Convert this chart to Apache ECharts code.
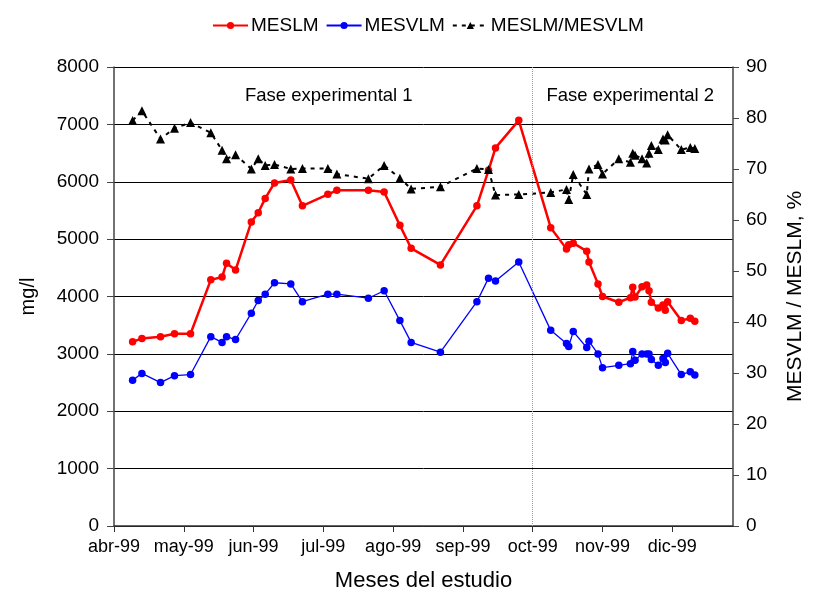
<!DOCTYPE html>
<html>
<head>
<meta charset="utf-8">
<script src="https://cdn.jsdelivr.net/npm/echarts@6/dist/echarts.min.js"></script>
<style>html,body{margin:0;padding:0;background:#fff}#c{width:814px;height:597px}</style>
</head>
<body>
<div id="c"></div>
<script>
const monthLabels = ['abr-99','may-99','jun-99','jul-99','ago-99','sep-99','oct-99','nov-99','dic-99'];
const dates = [
  '1999-04-09','1999-04-13','1999-04-21','1999-04-27',
  '1999-05-04','1999-05-13','1999-05-18','1999-05-20','1999-05-24','1999-05-31',
  '1999-06-03','1999-06-06','1999-06-10','1999-06-17','1999-06-22',
  '1999-07-03','1999-07-07','1999-07-21','1999-07-28',
  '1999-08-04','1999-08-09','1999-08-22',
  '1999-09-07','1999-09-12','1999-09-15','1999-09-25',
  '1999-10-09','1999-10-16','1999-10-17','1999-10-19','1999-10-25','1999-10-26','1999-10-30',
  '1999-11-01','1999-11-08','1999-11-13','1999-11-14','1999-11-15','1999-11-18','1999-11-20',
  '1999-11-21','1999-11-22','1999-11-25','1999-11-27','1999-11-28','1999-11-29',
  '1999-12-05','1999-12-09','1999-12-11'
];
const meslm = [
  3210,3270,3300,3350,
  3350,4290,4340,4580,4460,5300,
  5460,5710,5980,6030,5580,
  5780,5850,5850,5820,
  5240,4840,4550,
  5580,6200,6590,7070,
  5200,4830,4900,4930,4790,4600,4220,
  4000,3900,3980,4160,3990,4170,4200,4100,3900,3800,3850,3760,3910,
  3580,3620,3570
];
const mesvlm = [
  2540,2660,2500,2620,
  2640,3300,3200,3300,3250,3710,
  3930,4040,4240,4220,3910,
  4040,4040,3970,4100,
  3580,3200,3030,
  3910,4320,4270,4600,
  3410,3180,3130,3390,3110,3220,3000,
  2760,2800,2830,3040,2890,3000,3000,3000,2900,2800,2920,2850,3010,
  2640,2690,2630
];
const ratio = [
  79.5,81.4,75.9,78.0,
  79.1,77.1,73.7,72.0,72.8,70.0,
  72.0,70.7,70.9,70.0,70.1,
  70.1,69.0,68.1,70.7,
  68.2,66.1,66.5,
  70.1,69.9,64.9,65.0,
  65.4,66.0,64.0,68.9,65.0,70.0,70.9,
  69.0,72.0,71.3,73.1,72.7,72.0,71.2,73.1,74.6,73.8,75.9,75.7,76.7,
  73.8,74.2,74.0
];
const leftTicks = {min:0, max:8000, interval:1000};
const rightTicks = {min:0, max:90, interval:10};
const phaseLabels = ['Fase experimental 1','Fase experimental 2'];
const phaseBoundaryMonth = 6; // oct-99

function monthPos(s){
  const p = s.split('-').map(Number);
  const dim = new Date(p[0], p[1], 0).getDate();
  return (p[1]-4) + (p[2]-1)/dim;
}
const xs = dates.map(monthPos);
const pair = arr => arr.map((v,i)=>[xs[i], v]);

const FONT = 'Liberation Sans, Arial, sans-serif';
const chart = echarts.init(document.getElementById('c'), null, {renderer:'canvas'});
chart.setOption({
  animation:false,
  backgroundColor:'#fff',
  textStyle:{fontFamily:FONT, color:'#000'},
  legend:{
    top:11, left:207, itemGap:7, itemWidth:35, itemHeight:9,
    textStyle:{fontFamily:FONT, fontSize:19, color:'#000', padding:[0,0,0,-2]},
    data:['MESLM','MESVLM','MESLM/MESVLM']
  },
  grid:{left:114, right:77, top:67, bottom:70.5, containLabel:false},
  xAxis:{
    type:'value', min:0, max:8.87, interval:1,
    name:'Meses del estudio', nameLocation:'middle', nameGap:44,
    nameTextStyle:{fontFamily:FONT, fontSize:22, color:'#000'},
    axisLine:{show:true, onZero:false, lineStyle:{color:'#333', width:1.5}},
    axisTick:{show:true, length:6, lineStyle:{color:'#333'}},
    splitLine:{show:false},
    axisLabel:{margin:12, fontFamily:FONT, fontSize:18, color:'#000',
      showMaxLabel:false,
      formatter:v => (Math.abs(v-Math.round(v))<1e-6 && monthLabels[Math.round(v)]) ? monthLabels[Math.round(v)] : ''}
  },
  yAxis:[{
    type:'value', min:leftTicks.min, max:leftTicks.max, interval:leftTicks.interval,
    name:'mg/l', nameLocation:'middle', nameGap:76, nameRotate:90,
    nameTextStyle:{fontFamily:FONT, fontSize:20, color:'#000'},
    axisLine:{show:true, lineStyle:{color:'#444', width:1.5}},
    axisTick:{show:true, length:7, lineStyle:{color:'#444'}},
    splitLine:{show:true, lineStyle:{color:'#000', width:1}},
    axisLabel:{margin:15, fontFamily:FONT, fontSize:19, color:'#000', formatter:v => String(v)}
  },{
    type:'value', min:rightTicks.min, max:rightTicks.max, interval:rightTicks.interval,
    position:'right',
    name:'MESVLM / MESLM, %', nameLocation:'middle', nameGap:52, nameRotate:90,
    nameTextStyle:{fontFamily:FONT, fontSize:21, color:'#000'},
    axisLine:{show:true, lineStyle:{color:'#444', width:1.5}},
    axisTick:{show:true, length:6, lineStyle:{color:'#444'}},
    splitLine:{show:false},
    axisLabel:{margin:13, fontFamily:FONT, fontSize:19, color:'#000', formatter:v => String(v)}
  }],
  graphic:[
    {type:'text', left:245, top:86, style:{text:phaseLabels[0], font:'18.5px '+FONT, fill:'#000'}},
    {type:'text', left:546.5, top:86, style:{text:phaseLabels[1], font:'18.5px '+FONT, fill:'#000'}}
  ],
  series:[
    {name:'MESLM', type:'line', data:pair(meslm), yAxisIndex:0,
     symbol:'circle', symbolSize:7.5,
     lineStyle:{color:'#ff0000', width:2.5}, itemStyle:{color:'#ff0000'},
     markLine:{silent:true, symbol:'none', label:{show:false},
       lineStyle:{type:'dotted', color:'#999', width:1},
       data:[{xAxis:phaseBoundaryMonth}]}
    },
    {name:'MESVLM', type:'line', data:pair(mesvlm), yAxisIndex:0,
     symbol:'circle', symbolSize:7.5,
     lineStyle:{color:'#0000ff', width:1.3}, itemStyle:{color:'#0000ff'}},
    {name:'MESLM/MESVLM', type:'line', data:pair(ratio), yAxisIndex:1,
     symbol:'triangle', symbolSize:9,
     lineStyle:{color:'#000', width:2, type:[4,5]}, itemStyle:{color:'#000'}}
  ]
});
</script>
</body>
</html>
